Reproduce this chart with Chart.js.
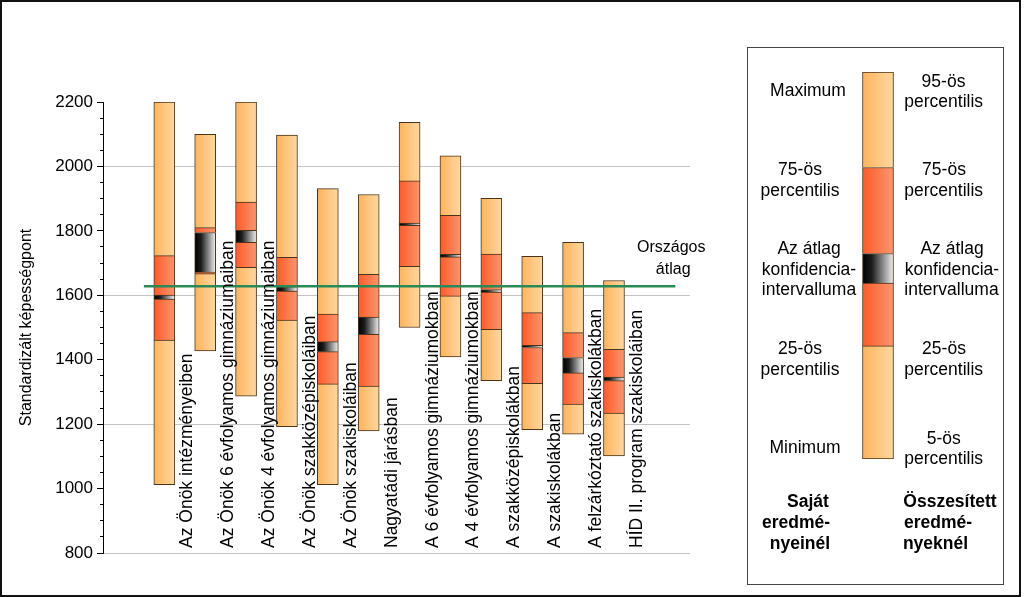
<!DOCTYPE html>
<html>
<head>
<meta charset="utf-8">
<script src="https://cdn.jsdelivr.net/npm/chart.js@4.4.1/dist/chart.umd.min.js"></script>
<style>
  html, body { margin: 0; padding: 0; background: #fff; }
  #wrap { position: relative; width: 1024px; height: 597px; background: #fff; overflow: hidden; font-family: "Liberation Sans", Arial, sans-serif; color: #000; }
  .abs { position: absolute; }
  .t { position: absolute; transform: translate(-50%, -50%); white-space: nowrap; font-size: 17.5px; line-height: 1; }
  .b { font-weight: bold; }
</style>
</head>
<body>
<div id="wrap">
  <div class="abs" style="left:0;top:0;width:1024px;height:597px;"><canvas id="main"></canvas></div>
  <div class="abs" style="left:747px;top:47px;width:257px;height:538px;border:1px solid #444;box-sizing:border-box;"></div>
  <div class="abs" style="left:848px;top:65px;width:60px;height:401px;"><canvas id="leg"></canvas></div>

  <div class="t" style="left:808px;top:91px;">Maximum</div>
  <div class="t" style="left:800px;top:170px;">75-ös</div>
  <div class="t" style="left:800px;top:191px;">percentilis</div>
  <div class="t" style="left:809px;top:249px;">Az átlag</div>
  <div class="t" style="left:809px;top:270px;">konfidencia-</div>
  <div class="t" style="left:809px;top:290px;">intervalluma</div>
  <div class="t" style="left:800px;top:349px;">25-ös</div>
  <div class="t" style="left:800px;top:370px;">percentilis</div>
  <div class="t" style="left:805px;top:448px;">Minimum</div>
  <div class="t b" style="left:808px;top:502px;">Saját</div>
  <div class="t b" style="left:796px;top:523px;">eredmé-</div>
  <div class="t b" style="left:800px;top:544px;">nyeinél</div>

  <div class="t" style="left:943.5px;top:82px;">95-ös</div>
  <div class="t" style="left:943.7px;top:102px;">percentilis</div>
  <div class="t" style="left:944px;top:170px;">75-ös</div>
  <div class="t" style="left:943.7px;top:191px;">percentilis</div>
  <div class="t" style="left:952px;top:249px;">Az átlag</div>
  <div class="t" style="left:952px;top:270px;">konfidencia-</div>
  <div class="t" style="left:951.5px;top:290px;">intervalluma</div>
  <div class="t" style="left:944px;top:349px;">25-ös</div>
  <div class="t" style="left:943.7px;top:370px;">percentilis</div>
  <div class="t" style="left:943.7px;top:439px;">5-ös</div>
  <div class="t" style="left:943.7px;top:459px;">percentilis</div>
  <div class="t b" style="left:950px;top:502px;">Összesített</div>
  <div class="t b" style="left:938px;top:523px;">eredmé-</div>
  <div class="t b" style="left:935.5px;top:544px;">nyeknél</div>

  <div class="abs" style="left:0;top:0;width:1021px;height:597px;border:2px solid #111;box-sizing:border-box;pointer-events:none;"></div>
</div>
<script>
// ---------- DATA ----------
const categories = [
  "Az Önök intézményeiben",
  "Az Önök 6 évfolyamos gimnáziumaiban",
  "Az Önök 4 évfolyamos gimnáziumaiban",
  "Az Önök szakközépiskoláiban",
  "Az Önök szakiskoláiban",
  "Nagyatádi járásban",
  "A 6 évfolyamos gimnáziumokban",
  "A 4 évfolyamos gimnáziumokban",
  "A szakközépiskolákban",
  "A szakiskolákban",
  "A felzárkóztató szakiskolákban",
  "HÍD II. program szakiskoláiban"
];
const minVals    = [1012, 1427, 1287, 1192, 1012, 1179, 1500, 1409, 1335, 1183, 1169, 1101];
const q1Vals     = [1461, 1667, 1687, 1523, 1325, 1318, 1690, 1598, 1494, 1327, 1262, 1234];
const ciLowVals  = [1588, 1672, 1764, 1613, 1425, 1479, 1817, 1719, 1610, 1438, 1359, 1335];
const ciHighVals = [1601, 1795, 1802, 1627, 1456, 1532, 1824, 1727, 1618, 1445, 1407, 1346];
const q3Vals     = [1723, 1810, 1889, 1718, 1542, 1665, 1955, 1848, 1728, 1546, 1484, 1432];
const maxVals    = [2200, 2100, 2200, 2097, 1931, 1913, 2137, 2033, 1901, 1721, 1764, 1646];
const nationalAvg = 1628;
const nationalAvgLabel = ["Országos", "átlag"];
const yAxisTitle = "Standardizált képességpont";
// schematic legend bar levels: 5%, 25%, CI low, CI high, 75%, 95%
const legendLevels = [5, 31.3, 45.9, 52.8, 72.8, 95];

// ---------- STYLE ----------
Chart.defaults.font.family = '"Liberation Sans", Arial, sans-serif';
Chart.defaults.color = '#000';
const ORANGE = [[0, '#FDB45C'], [1, '#FFD7A2']];
const RED    = [[0, '#FF5A28'], [1, '#F7976F']];
const CI     = [[0, '#000000'], [0.3, '#1c1c1c'], [1, '#f2f2f2']];
const EDGE = '#4a3318';

function grad(c, stops, thickness) {
  const fallback = stops[0][1];
  if (!c || c.type !== 'data' || !c.parsed) return fallback;
  const xs = c.chart.scales && c.chart.scales.x;
  if (!xs) return fallback;
  const cx = xs.getPixelForValue(c.parsed.x);
  const half = thickness / 2;
  if (!isFinite(cx) || !isFinite(half)) return fallback;
  const g = c.chart.ctx.createLinearGradient(cx - half, 0, cx + half, 0);
  stops.forEach(s => g.addColorStop(s[0], s[1]));
  return g;
}
function seg(lo, hi) { return lo.map((v, i) => ({ x: i, y: [v, hi[i]] })); }

function boxDatasets(levels, thickness) {
  const [mn, q1, cl, ch, q3, mx] = levels;
  const open = { top: 1, left: 1, right: 1, bottom: 0 };
  const common = { type: 'bar', grouped: false, barThickness: thickness, borderColor: EDGE, borderSkipped: false, order: 1 };
  return [
    { ...common, data: seg(mn, q1), backgroundColor: c => grad(c, ORANGE, thickness), borderWidth: 1 },
    { ...common, data: seg(q1, cl), backgroundColor: c => grad(c, RED, thickness), borderWidth: open },
    { ...common, data: seg(cl, ch), backgroundColor: c => grad(c, CI, thickness), borderWidth: open },
    { ...common, data: seg(ch, q3), backgroundColor: c => grad(c, RED, thickness), borderWidth: open },
    { ...common, data: seg(q3, mx), backgroundColor: c => grad(c, ORANGE, thickness), borderWidth: open }
  ];
}

const labelPlugin = {
  id: 'catLabels',
  afterDatasetsDraw(chart) {
    const { ctx, scales: { x, y } } = chart;
    ctx.save();
    ctx.fillStyle = '#000';
    ctx.font = '17.5px "Liberation Sans", Arial, sans-serif';
    ctx.textAlign = 'left';
    ctx.textBaseline = 'alphabetic';
    const yb = y.getPixelForValue(y.min) - 5;
    categories.forEach((c, i) => {
      ctx.save();
      ctx.translate(x.getPixelForValue(i) + 28, yb);
      ctx.rotate(-Math.PI / 2);
      ctx.fillText(c, 0, 0);
      ctx.restore();
    });
    ctx.font = '16px "Liberation Sans", Arial, sans-serif';
    ctx.textAlign = 'center';
    ctx.textBaseline = 'middle';
    const ly = y.getPixelForValue(nationalAvg);
    const lx = x.getPixelForValue(categories.length + 0.4);
    ctx.fillText(nationalAvgLabel[0], lx, ly - 39);
    ctx.fillText(nationalAvgLabel[1], lx + 2, ly - 17);
    ctx.restore();
  }
};

new Chart(document.getElementById('main'), {
  data: {
    datasets: [
      {
        type: 'line',
        data: [{ x: -0.5, y: nationalAvg }, { x: categories.length + 0.5, y: nationalAvg }],
        borderColor: '#2a8a55', borderWidth: 2.5, pointRadius: 0, fill: false, order: 0
      },
      ...boxDatasets([minVals, q1Vals, ciLowVals, ciHighVals, q3Vals, maxVals], 21)
    ]
  },
  options: {
    responsive: true, maintainAspectRatio: false, animation: false,
    layout: { padding: { left: 0, top: 102, right: 334, bottom: 44 } },
    plugins: { legend: { display: false }, tooltip: { enabled: false } },
    scales: {
      x: { type: 'linear', min: -1.5, max: 12.86, offset: false, display: false, grid: { offset: false } },
      y: {
        type: 'linear', min: 800, max: 2200,
        afterFit: s => { s.width = 103; },
        border: { display: true, color: '#000', width: 1 },
        grid: {
          color: c => (c.tick && c.tick.value % 400 === 0) ? '#c4c4c4' : 'rgba(0,0,0,0)',
          lineWidth: 1,
          tickColor: '#000',
          tickLength: 6,
          tickBorderDash: c => (c.tick && c.tick.value % 200 === 0) ? [] : [0, 3, 3, 3]
        },
        ticks: {
          stepSize: 50, maxTicksLimit: 100, autoSkip: false, padding: 4,
          font: { size: 17 }, color: '#000',
          callback: v => (v % 200 === 0 ? String(v) : '')
        },
        title: { display: true, text: yAxisTitle, color: '#000', font: { size: 16 }, padding: { top: 17, bottom: 0 } }
      }
    }
  },
  plugins: [labelPlugin]
});

new Chart(document.getElementById('leg'), {
  data: { datasets: boxDatasets(legendLevels.map(v => [v]), 31) },
  options: {
    responsive: true, maintainAspectRatio: false, animation: false,
    layout: { padding: { left: 0, right: 0, top: 7, bottom: 7 } },
    plugins: { legend: { display: false }, tooltip: { enabled: false } },
    scales: {
      x: { type: 'linear', min: -1, max: 1, offset: false, display: false },
      y: { type: 'linear', min: 5, max: 95, display: false }
    }
  }
});
</script>
</body>
</html>
